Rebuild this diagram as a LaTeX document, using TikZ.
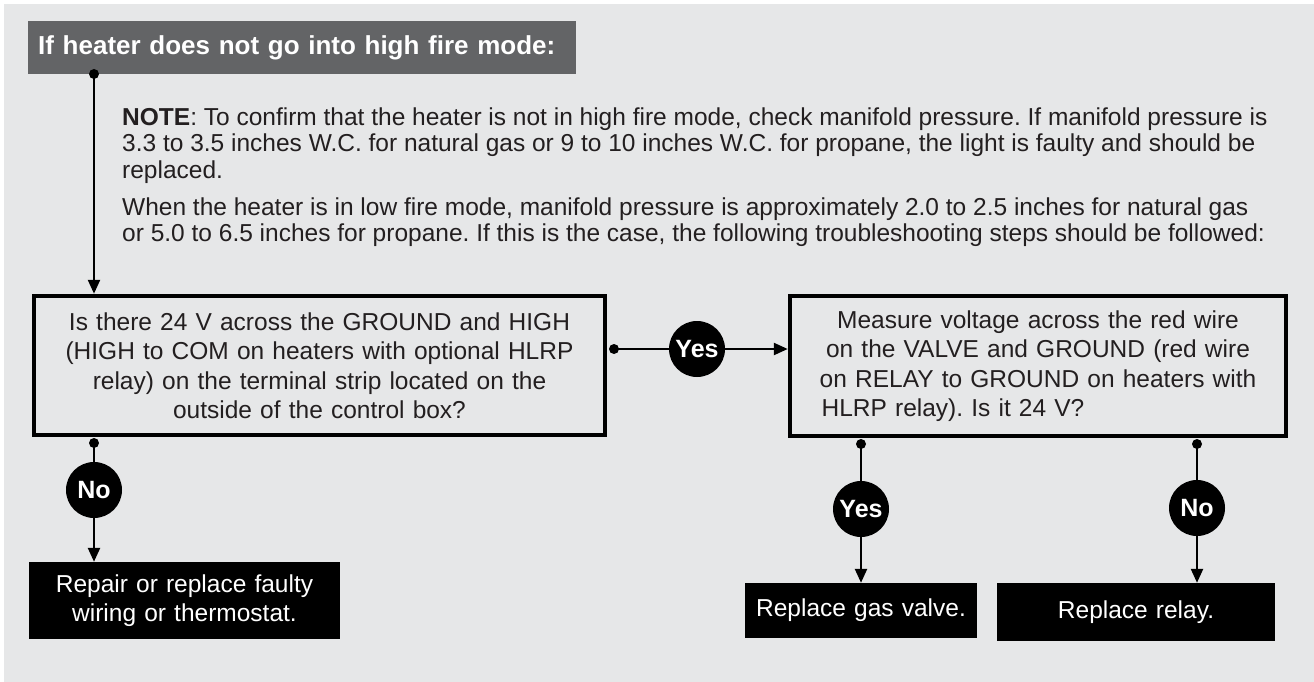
\documentclass[tikz,border=0pt]{standalone}
\usepackage{fontspec}
\setmainfont{Liberation Sans}
\usetikzlibrary{arrows.meta}
\definecolor{bggray}{HTML}{E6E7E8}
\definecolor{hdrgray}{HTML}{636466}
\definecolor{ink}{HTML}{231F20}
\frenchspacing
\tikzset{
  conn/.style={line width=2.4pt, draw=black},
  arr/.style={conn, -{Triangle[length=14pt,width=12pt]}},
  qbox/.style={draw=black, line width=4.5pt, fill=bggray, align=center, inner sep=0pt, text=ink, font=\fontsize{24.5}{29.5}\selectfont},
  endbox/.style={fill=black, text=white, align=center, inner sep=0pt, font=\fontsize{24.5}{29.5}\selectfont},
  ans/.style={circle, fill=black, text=white, minimum size=56pt, inner sep=0pt, font=\bfseries\fontsize{25}{25}\selectfont},
  dotc/.style={circle, fill=black, minimum size=10pt, inner sep=0pt},
  para/.style={anchor=base west, align=left, inner sep=0pt, text=ink, font=\fontsize{24.5}{26}\selectfont},
  hdrbox/.style={fill=hdrgray, text=white, anchor=north west, minimum width=548pt, minimum height=53pt, text width=528pt, inner xsep=10pt, inner ysep=0pt, align=left, font=\bfseries\fontsize{26}{30}\selectfont},
}
\begin{document}
\begin{tikzpicture}[x=1pt,y=-1pt]
\useasboundingbox (0,0) rectangle (1314,682);
\fill[white] (0,0) rectangle (1314,682);
\fill[bggray] (4,4) rectangle (1314,682);

\node[hdrbox] (hdr) at (28,21) {If heater does not go into high fire mode:};
\node[dotc] (hd) at (94,74) {};

% base anchor = baseline of the last line
\node[para] (note) at (122,178) {\textbf{NOTE}: To confirm that the heater is not in high fire mode, check manifold pressure. If manifold pressure is\\
3.3 to 3.5 inches W.C. for natural gas or 9 to 10 inches W.C. for propane, the light is faulty and should be\\
replaced.};
\node[para] (low) at (122,241) {When the heater is in low fire mode, manifold pressure is approximately 2.0 to 2.5 inches for natural gas\\
or 5.0 to 6.5 inches for propane. If this is the case, the following troubleshooting steps should be followed:};

\node[qbox, minimum width=571pt, minimum height=139pt, text width=560pt] (q1) at (319.5,365.5) {Is there 24 V across the GROUND and HIGH\\(HIGH to COM on heaters with optional HLRP\\relay) on the terminal strip located on the\\outside of the control box?};
\node[qbox, minimum width=496pt, minimum height=140pt, text width=486pt] (q2) at (1038,366) {Measure voltage across the red wire\\on the VALVE and GROUND (red wire\\on RELAY to GROUND on heaters with\\\hspace*{-170pt}HLRP relay). Is it 24 V?};

\draw[arr] (hd.center) -- (hd.center |- q1.north);

\node[dotc] (yd) at (614,349) {};
\node[ans] (yes1) at (697,349) {Yes};
\draw[conn] (yd.center) -- (yes1);
\draw[arr] (yes1) -- (yes1 -| q2.west);

\node[endbox, minimum width=311pt, minimum height=77pt, text width=300pt] (a1) at (184.5,600.5) {Repair or replace faulty\\wiring or thermostat.};
\node[endbox, minimum width=232pt, minimum height=55pt, text width=226pt] (a2) at (861,610.5) {Replace gas valve.};
\node[endbox, minimum width=278pt, minimum height=58pt, text width=270pt] (a3) at (1136,612) {Replace relay.};

\node[dotc] (nd1) at (94,443) {};
\node[ans] (no1) at (94,490) {No};
\draw[conn] (nd1.center) -- (no1);
\draw[arr] (no1) -- (no1 |- a1.north);

\node[dotc] (yd2) at (861,444) {};
\node[ans] (yes2) at (861,509) {Yes};
\draw[conn] (yd2.center) -- (yes2);
\draw[arr] (yes2) -- (yes2 |- a2.north);

\node[dotc] (nd2) at (1197,444) {};
\node[ans] (no2) at (1197,508) {No};
\draw[conn] (nd2.center) -- (no2);
\draw[arr] (no2) -- (no2 |- a3.north);
\end{tikzpicture}
\end{document}
